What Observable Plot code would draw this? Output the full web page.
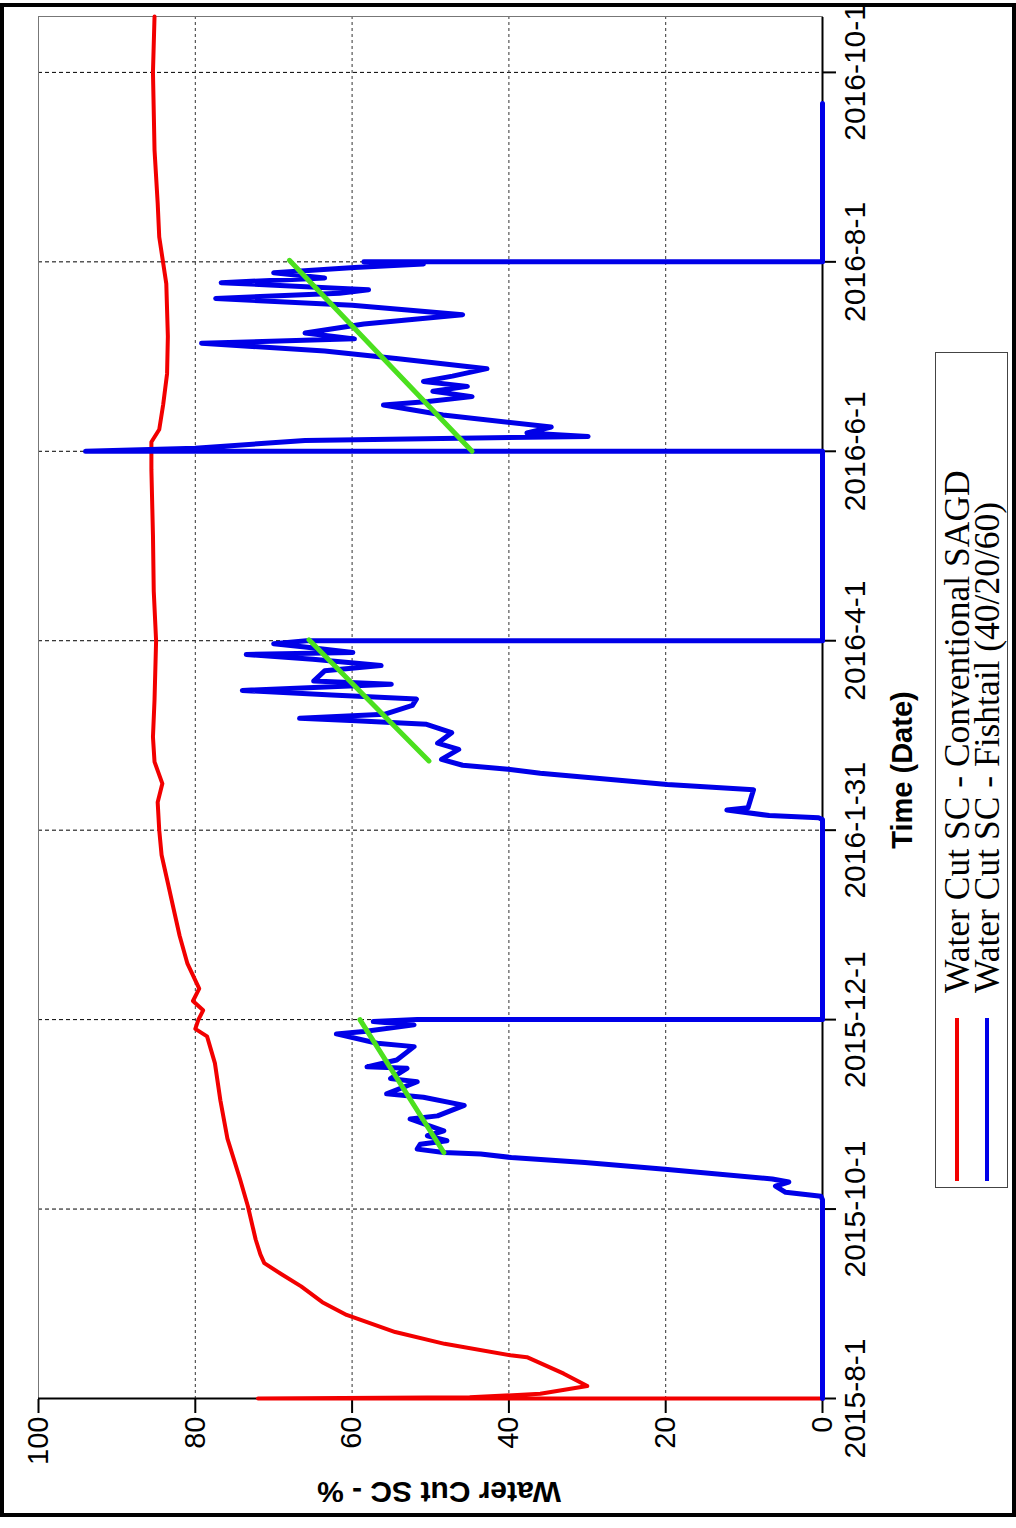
<!DOCTYPE html>
<html>
<head>
<meta charset="utf-8">
<script src="https://cdn.jsdelivr.net/npm/d3@7"></script>
<script src="https://cdn.jsdelivr.net/npm/@observablehq/plot@0.6"></script>
<style>
html, body { margin: 0; padding: 0; background: #fff; width: 1016px; height: 1528px; overflow: hidden; }
#border { position: absolute; left: 0; top: 3px; width: 1016px; height: 1514px; border: 4px solid #000; box-sizing: border-box; }
#rot { position: absolute; left: 0; top: 0; width: 1528px; height: 1016px; transform-origin: 0 0; transform: translate(0px, 1528px) rotate(-90deg); font-family: "Liberation Sans", Arial, sans-serif; }
#chart { position: absolute; left: 0; top: 0; }
.xtitle { position: absolute; left: 758px; top: 902px; transform: translate(-50%, -50%); font-weight: bold; font-size: 29px; white-space: nowrap; }
.ytitle { position: absolute; left: 36px; top: 439px; transform: translate(-50%, -50%) rotate(-90deg); font-weight: bold; font-size: 30px; white-space: nowrap; }
#legend { position: absolute; left: 340px; top: 935px; width: 836px; height: 73px; border: 1px solid #444; box-sizing: border-box; font-family: "Liberation Serif", "Times New Roman", serif; }
#legend .sw { position: absolute; left: 6px; width: 163px; height: 4px; }
#legend .lab { position: absolute; left: 194px; font-size: 35.5px; line-height: 30px; white-space: nowrap; }
</style>
</head>
<body>
<div id="border"></div>
<div id="rot">
  <div id="chart"></div>
  <div class="xtitle">Time (Date)</div>
  <div class="ytitle">Water Cut SC - %</div>
  <div id="legend"></div>
</div>
<script>
// ---- data (days since 2015-8-1, water cut %) ----
const startDate = "2015-8-1";
const tickLabels = ["2015-8-1", "2015-10-1", "2015-12-1", "2016-1-31", "2016-4-1", "2016-6-1", "2016-8-1", "2016-10-1"];
const yTicks = [0, 20, 40, 60, 80, 100];
const seriesNames = ["Water Cut SC - Conventional SAGD", "Water Cut SC - Fishtail (40/20/60)"];
const seriesColors = ["#f20000", "#0000e8"];
const trendColor = "#4be01e";

const conventionalDays = [0, 0, 0.4, 1.5, 4, 8, 13.3, 13.9, 17.6, 21.4, 26.9, 31, 36.1, 40, 43.6, 46.4, 51.2, 62, 70.7, 83.7, 96, 108, 116.6, 119, 122, 125, 128, 132, 140, 149, 158, 166, 175, 183, 192, 198, 205, 213, 225, 244, 260, 278, 299, 308, 312, 320, 330, 342, 359, 374, 385, 402, 427, 445];
const conventionalValues = [0, 72, 45, 36, 30, 33, 37.7, 39.8, 48.2, 54.5, 60.7, 63.8, 66.5, 69, 71.2, 71.7, 72.3, 73.3, 74.3, 75.9, 76.8, 77.5, 78.5, 80.0, 79.6, 79.0, 80.3, 79.5, 81, 82, 82.8, 83.5, 84.3, 84.6, 84.8, 84.2, 85.2, 85.4, 85.2, 85.0, 85.3, 85.4, 85.6, 85.6, 84.6, 84.1, 83.6, 83.5, 83.7, 84.6, 84.8, 85.2, 85.4, 85.2];

const fishtailDays = [0, 64, 65.1, 66.4, 68.4, 69.7, 70.7, 73.8, 76, 77.6, 78.7, 79.2, 80.3, 81.9, 83, 84.6, 86.2, 90, 91, 94.4, 97, 98.1, 102, 103, 106.3, 106.8, 109, 113.3, 114.4, 117.4, 118.2, 120.3, 121.4, 122, 122,
  186.4, 187, 187.7, 189.5, 190.2, 196, 197.7, 201.3, 202.6, 203.9, 205.8, 209, 211, 214.4, 217.1, 218.2, 219, 220.3, 223.2, 225.2, 226.5, 228, 230, 231, 234.3, 236, 238, 239.6, 240.2, 242, 243, 244, 244,
  305, 305, 306, 308.5, 309.8, 310.9, 312.8, 316.7, 319.9, 321, 322.6, 324.3, 325.9, 327.5, 329.2, 331.6, 334.8, 337.3, 339.8, 341.2, 343.1, 346, 349, 352, 354.2, 355.9, 357, 359.3, 360.8, 362.5, 364.2, 365.3, 366, 366, 417];
const fishtailValues = [0, 0, 0.2, 4.7, 6.0, 4.3, 6.4, 20.1, 30.3, 39.7, 43.6, 48.3, 51.7, 51.3, 47.9, 50.4, 48.3, 52.6, 49.1, 45.7, 50.9, 55.6, 51.7, 55.1, 53, 58.1, 54.3, 52.1, 56.8, 62, 58.5, 52.1, 57.3, 51.7, 0,
  0, 0.5, 6.8, 12.2, 9.5, 8.8, 19.8, 36, 40.1, 45.9, 48.6, 46.4, 49.1, 47.3, 50.5, 59.5, 66.7, 55.9, 52.3, 51.8, 62.6, 74, 55, 64.9, 63.5, 56.3, 65, 73.5, 59.9, 66, 70, 65.8, 0,
  0, 94, 80, 66, 29.9, 37.7, 34.6, 48.4, 56, 50.3, 44.7, 49.7, 45.3, 50.9, 47.2, 42.8, 54.1, 63.5, 79.2, 59.7, 66, 58.5, 45.9, 60, 77.4, 61.6, 57.9, 76.7, 63.5, 70, 59.7, 50.9, 58.5, 0, 0];

const trendSegment = [1, 1, 2, 2, 3, 3];
const trendDays = [79.2, 122, 205.3, 244.3, 305, 366.5];
const trendValues = [48.3, 59, 50.2, 65.5, 44.7, 68];

const domainEndDay = 445;

// ---- helpers ----
const parse = d3.utcParse("%Y-%m-%d");
const t0 = parse(startDate);
const toDate = d => new Date(t0.getTime() + d * 864e5);
const fmt = d => `${d.getUTCFullYear()}-${d.getUTCMonth() + 1}-${d.getUTCDate()}`;
const tickDates = tickLabels.map(parse);

const conv = conventionalDays.map((d, i) => ({date: toDate(d), value: conventionalValues[i]}));
const fish = fishtailDays.map((d, i) => ({date: toDate(d), value: fishtailValues[i]}));
const trend = trendDays.map((d, i) => ({date: toDate(d), value: trendValues[i], seg: trendSegment[i]}));

const chart = Plot.plot({
  width: 1528,
  height: 880,
  marginLeft: 129,
  marginRight: 17,
  marginTop: 38,
  marginBottom: 58,
  style: {fontFamily: "'Liberation Sans', Arial, sans-serif", background: "transparent", color: "#000"},
  x: {type: "utc", domain: [t0, toDate(domainEndDay)]},
  y: {domain: [0, 100]},
  marks: [
    Plot.ruleX(tickDates.slice(1), {stroke: "#000", strokeWidth: 1, strokeDasharray: "4,3"}),
    Plot.ruleY(yTicks.slice(1, -1), {stroke: "#333", strokeWidth: 1, strokeDasharray: "3,3"}),
    Plot.frame({stroke: "#777", strokeWidth: 1}),
    Plot.ruleY([0], {stroke: "#000", strokeWidth: 2}),
    Plot.ruleX([t0], {stroke: "#000", strokeWidth: 2}),
    Plot.axisX({ticks: tickDates, tickFormat: fmt, tickSize: 14, tickPadding: 7, fontSize: 30, strokeWidth: 2, label: null}),
    Plot.axisY({ticks: yTicks, tickSize: 14, tickPadding: 4, fontSize: 29, strokeWidth: 2, label: null}),
    Plot.line(conv, {x: "date", y: "value", stroke: seriesColors[0], strokeWidth: 4, strokeLinejoin: "round"}),
    Plot.line(fish, {x: "date", y: "value", stroke: seriesColors[1], strokeWidth: 5, strokeLinejoin: "round"}),
    Plot.line(trend, {x: "date", y: "value", z: "seg", stroke: trendColor, strokeWidth: 5})
  ]
});
document.getElementById("chart").appendChild(chart);

// ---- legend ----
const legend = document.getElementById("legend");
seriesNames.forEach((name, i) => {
  const sw = document.createElement("div");
  sw.className = "sw";
  sw.style.top = (19 + i * 30) + "px";
  sw.style.background = seriesColors[i];
  legend.appendChild(sw);
  const lab = document.createElement("div");
  lab.className = "lab";
  lab.style.top = (6 + i * 30) + "px";
  lab.textContent = name;
  legend.appendChild(lab);
});
</script>
</body>
</html>
